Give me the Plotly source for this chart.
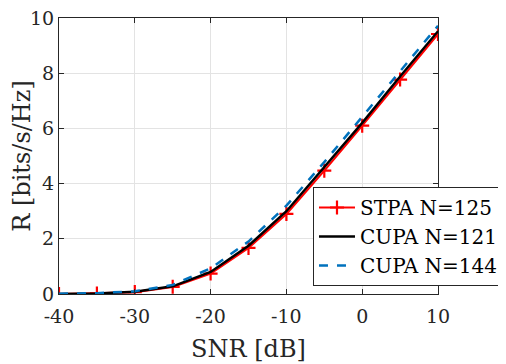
import plotly.graph_objects as go

# SNR grid and achievable rate curves
snr_db = [-40, -35, -30, -25, -20, -15, -10, -5, 0, 5, 10]
rate_stpa_125 = [0.0, 0.02, 0.07, 0.26, 0.74, 1.67, 2.9, 4.47, 6.1, 7.77, 9.42]
rate_cupa_121 = [0.0, 0.02, 0.08, 0.28, 0.8, 1.75, 3.0, 4.58, 6.2, 7.88, 9.52]
rate_cupa_144 = [0.01, 0.03, 0.1, 0.33, 0.93, 1.9, 3.2, 4.78, 6.42, 8.07, 9.72]

x_ticks = [-40, -30, -20, -10, 0, 10]
y_ticks = [0, 2, 4, 6, 8, 10]

FONT = "DejaVu Serif, Liberation Serif, Noto Serif, serif"
AXIS_COLOR = "#262626"

fig = go.Figure()

fig.add_trace(go.Scatter(
    x=snr_db, y=rate_stpa_125, mode="lines+markers", name="STPA N=125",
    line=dict(color="#ff0000", width=2.2),
    marker=dict(symbol="cross-thin", size=10, line=dict(color="#ff0000", width=2.2)),
))
fig.add_trace(go.Scatter(
    x=snr_db, y=rate_cupa_121, mode="lines", name="CUPA N=121",
    line=dict(color="#000000", width=2.4),
))
fig.add_trace(go.Scatter(
    x=snr_db, y=rate_cupa_144, mode="lines", name="CUPA N=144",
    line=dict(color="#0072BD", width=2.5, dash="dash"),
))

axis_common = dict(
    showline=True, mirror="ticks", linecolor=AXIS_COLOR, linewidth=1,
    ticks="inside", ticklen=5, tickcolor=AXIS_COLOR,
    showgrid=True, gridcolor="#e3e3e3", gridwidth=1,
    zeroline=False, automargin=False, ticklabeloverflow="allow",
    tickfont=dict(family=FONT, size=19, color=AXIS_COLOR),
)

# the page body has an 8px margin, so the figure is laid out 8px up/left of the target;
# plot spans 379 px of a 455 px wide paper (no right margin) so the legend stays inside it
fig.update_xaxes(
    range=[-40, 10], tickvals=x_ticks, ticktext=[str(v) for v in x_ticks],
    domain=[0, 379 / 455], ticklabelstandoff=5,
    title=dict(text="SNR [dB]", font=dict(family=FONT, size=24, color=AXIS_COLOR), standoff=14),
    **axis_common,
)
fig.update_yaxes(
    range=[0, 10], tickvals=y_ticks,
    title=dict(text="R [bits/s/Hz]", font=dict(family=FONT, size=24, color=AXIS_COLOR), standoff=1),
    **axis_common,
)

fig.update_layout(
    width=506, height=364,
    margin=dict(l=51, r=0, t=10, b=78),
    plot_bgcolor="white", paper_bgcolor="white",
    font=dict(family=FONT, color="black"),
    legend=dict(
        x=0.978, y=0.029, xanchor="right", yanchor="bottom",
        bgcolor="white", bordercolor=AXIS_COLOR, borderwidth=1,
        font=dict(family=FONT, size=20, color="black"),
        tracegroupgap=0, itemwidth=36,
    ),
)

fig.write_html("out.html")
